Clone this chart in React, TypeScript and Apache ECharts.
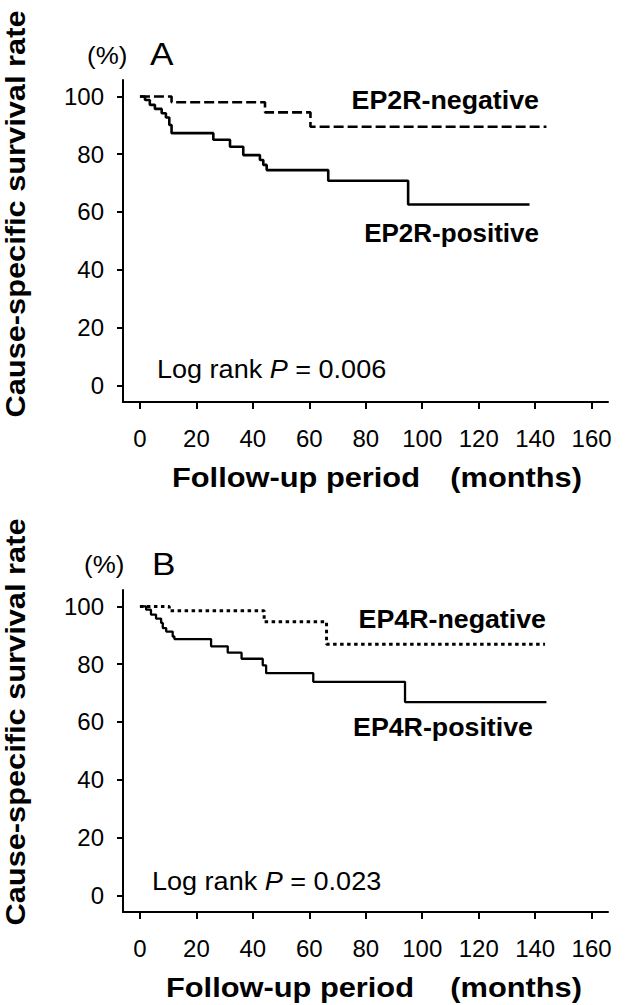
import React, { useEffect, useRef } from "react";
import * as echarts from "echarts";

// ---- data ----
const xTicks = [0, 20, 40, 60, 80, 100, 120, 140, 160];
const yTicks = [0, 20, 40, 60, 80, 100];

// Panel A: EP2R
const ep2rNegMonths = [0, 11.2, 44.3, 60.4, 144];
const ep2rNegSurv = [100, 98.0, 94.5, 89.5, 89.5];
const ep2rPosMonths = [0, 1.8, 3.5, 5.3, 7.7, 9.2, 10.4, 11.2, 26.0, 31.9, 36.6, 42.5, 43.7, 44.9, 66.7, 95.0, 138];
const ep2rPosSurv = [100, 98.8, 97.1, 95.7, 94.2, 92.7, 90.1, 87.3, 85.0, 82.6, 79.7, 78.0, 76.3, 74.5, 70.8, 62.6, 62.6];

// Panel B: EP4R
const ep4rNegMonths = [0, 10.4, 44.0, 66.1, 143.5];
const ep4rNegSurv = [100, 98.5, 94.7, 86.9, 86.9];
const ep4rPosMonths = [0, 2.2, 3.9, 5.7, 7.5, 8.1, 9.3, 11.6, 12.2, 25.2, 31.1, 36.0, 43.5, 44.7, 61.4, 93.9, 144];
const ep4rPosSurv = [100, 98.9, 97.2, 95.8, 94.3, 92.5, 91.3, 89.6, 88.7, 86.2, 84.0, 81.9, 79.6, 76.9, 73.9, 66.9, 66.9];

const FONT = "'Liberation Sans', Arial, Helvetica, sans-serif";

const pairs = (xs: number[], ys: number[]) => xs.map((x, i) => [x, ys[i]]);

function makeXAxis(gridIndex: number) {
  return {
    type: "value",
    gridIndex,
    min: -6,
    max: 165.8,
    splitLine: { show: false },
    axisLine: { show: true, onZero: false, lineStyle: { color: "#000", width: 2 } },
    axisTick: { show: true, inside: false, length: 7, customValues: xTicks, lineStyle: { color: "#000", width: 2 } },
    axisLabel: { customValues: xTicks, fontSize: 24, color: "#000", fontFamily: FONT, margin: 24 },
  };
}
function makeYAxis(gridIndex: number) {
  return {
    type: "value",
    gridIndex,
    min: -5.8,
    max: 105.7,
    splitLine: { show: false },
    axisLine: { show: true, onZero: false, lineStyle: { color: "#000", width: 2 } },
    axisTick: { show: true, inside: false, length: 6, customValues: yTicks, lineStyle: { color: "#000", width: 2 } },
    axisLabel: { customValues: yTicks, fontSize: 24, color: "#000", fontFamily: FONT, margin: 19 },
  };
}

function txt(text: string, x: number, y: number, opts: any = {}) {
  const { align = "left", size = 23, weight = "normal", rotation = 0, scaleX = 1, rich } = opts;
  return {
    type: "text",
    x,
    y,
    rotation,
    scaleX,
    style: {
      text,
      align,
      verticalAlign: "middle",
      fontSize: size,
      fontWeight: weight,
      fontFamily: FONT,
      fill: "#000",
      rich,
    },
  };
}

const logRich = {
  n: { fontSize: 26, fontFamily: FONT, fill: "#000" },
  i: { fontStyle: "italic", fontSize: 26, fontFamily: FONT, fill: "#000" },
};

export default function App() {
  const ref = useRef<HTMLDivElement>(null);
  useEffect(() => {
    document.body.style.margin = "0";
    const chart = echarts.init(ref.current!, null, { renderer: "svg" });
    const lineBase = { type: "line", step: "end", showSymbol: false, symbol: "none", silent: true };
    chart.setOption({
      animation: false,
      backgroundColor: "#fff",
      grid: [
        { left: 123, top: 80, width: 485, height: 322 },
        { left: 123, top: 590, width: 485, height: 322 },
      ],
      xAxis: [makeXAxis(0), makeXAxis(1)],
      yAxis: [makeYAxis(0), makeYAxis(1)],
      series: [
        { ...lineBase, name: "EP2R-negative", xAxisIndex: 0, yAxisIndex: 0, data: pairs(ep2rNegMonths, ep2rNegSurv), lineStyle: { color: "#000", width: 2.6, type: [10, 4] } },
        { ...lineBase, name: "EP2R-positive", xAxisIndex: 0, yAxisIndex: 0, data: pairs(ep2rPosMonths, ep2rPosSurv), lineStyle: { color: "#000", width: 2.6 } },
        { ...lineBase, name: "EP4R-negative", xAxisIndex: 1, yAxisIndex: 1, data: pairs(ep4rNegMonths, ep4rNegSurv), lineStyle: { color: "#000", width: 3, type: [3.5, 3.5] } },
        { ...lineBase, name: "EP4R-positive", xAxisIndex: 1, yAxisIndex: 1, data: pairs(ep4rPosMonths, ep4rPosSurv), lineStyle: { color: "#000", width: 2.3 } },
      ],
      graphic: [
        // Panel A
        txt("(%)", 87, 55, { size: 24, scaleX: 1.08 }),
        txt("A", 150, 54, { size: 32, scaleX: 1.1 }),
        txt("EP2R-negative", 539, 100, { align: "right", size: 26, weight: "bold", scaleX: 1.03 }),
        txt("EP2R-positive", 539, 233, { align: "right", size: 26, weight: "bold", scaleX: 1.0 }),
        txt("{n|Log rank }{i|P}{n| = 0.006}", 157, 369, { size: 26, rich: logRich, scaleX: 1.04 }),
        txt("Follow-up period", 172, 477, { size: 28, weight: "bold", scaleX: 1.1 }),
        txt("(months)", 582, 477, { size: 28, weight: "bold", align: "right", scaleX: 1.1 }),
        txt("Cause-specific survival rate", 16, 214, { size: 27, weight: "bold", rotation: Math.PI / 2, align: "center", scaleX: 1.14 }),
        // Panel B
        txt("(%)", 84, 564, { size: 24, scaleX: 1.08 }),
        txt("B", 152, 564, { size: 32, scaleX: 1.1 }),
        txt("EP4R-negative", 546, 619, { align: "right", size: 26, weight: "bold", scaleX: 1.03 }),
        txt("EP4R-positive", 533, 727, { align: "right", size: 26, weight: "bold", scaleX: 1.03 }),
        txt("{n|Log rank }{i|P}{n| = 0.023}", 152, 881, { size: 26, rich: logRich, scaleX: 1.04 }),
        txt("Follow-up period", 166, 987, { size: 28, weight: "bold", scaleX: 1.1 }),
        txt("(months)", 582, 987, { size: 28, weight: "bold", align: "right", scaleX: 1.1 }),
        txt("Cause-specific survival rate", 16, 722, { size: 27, weight: "bold", rotation: Math.PI / 2, align: "center", scaleX: 1.14 }),
      ],
    });
    return () => chart.dispose();
  }, []);
  return <div ref={ref} style={{ width: 630, height: 1005 }} />;
}
